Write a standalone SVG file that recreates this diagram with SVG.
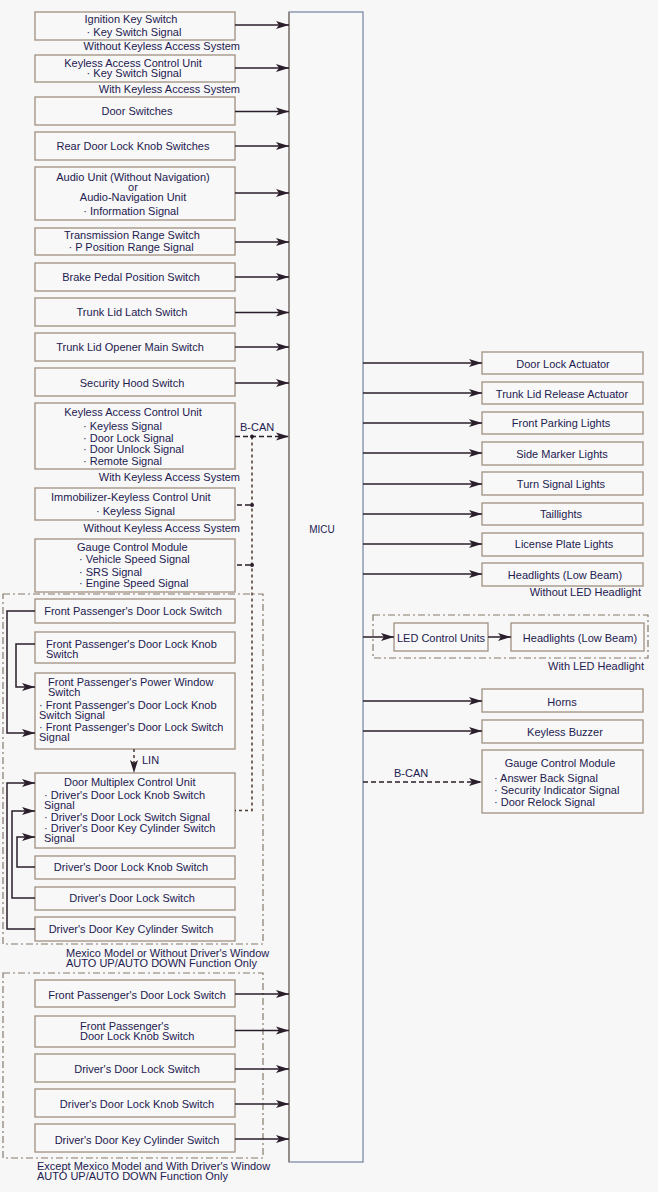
<svg xmlns="http://www.w3.org/2000/svg" width="658" height="1192" viewBox="0 0 658 1192">
<defs>
<style>
.bx{fill:#f8f8f8;stroke:#a09080;stroke-width:1.3}
.t{font-family:"Liberation Sans",Arial,sans-serif;font-size:11px;fill:#1d2050}
.m{text-anchor:middle}
.e{text-anchor:end}
.ln{fill:none;stroke:#2b1e2b;stroke-width:1.5}
.dl{fill:none;stroke:#2b1e2b;stroke-width:1.5;stroke-dasharray:5,3}
.dot{fill:none;stroke:#4a3a30;stroke-width:1.5;stroke-dasharray:3,3}
.grp{fill:none;stroke:#857a6c;stroke-width:1.2;stroke-dasharray:7,3,2,3}
</style>
<marker id="ah" viewBox="0 0 13 9" refX="13" refY="4.5" markerWidth="13" markerHeight="9" markerUnits="userSpaceOnUse" orient="auto">
<path d="M0,0.5 L13,4.5 L0,8.5 L3,4.5 z" fill="#2b1e2b"/>
</marker>
</defs>
<rect x="0" y="0" width="658" height="1192" fill="#f7f7f7"/>

<!-- group frames -->
<g id="frames">
<rect class="grp" x="3" y="594" width="260" height="350"/>
<rect class="grp" x="3" y="973" width="260" height="185"/>
<rect class="grp" x="373" y="615" width="275" height="43"/>
</g>

<!-- MICU -->
<g id="micu">
<rect x="289" y="12" width="74" height="1150" fill="#f8f8f8" stroke="#7d8ca8" stroke-width="1.3"/>
<line x1="289" y1="12" x2="289" y2="1162" stroke="#8b7b6b" stroke-width="1.3"/>
<text class="t m" x="322" y="533" style="font-size:10px">MICU</text>
</g>

<!-- left inputs -->
<g id="n1"><rect class="bx" x="35" y="12" width="200" height="28"/>
<text class="t m" x="131" y="23">Ignition Key Switch</text>
<text class="t m" x="134" y="36">· Key Switch Signal</text></g>
<text class="t e" x="240" y="50">Without Keyless Access System</text>

<g id="n2"><rect class="bx" x="35" y="55" width="200" height="27"/>
<text class="t m" x="133" y="67">Keyless Access Control Unit</text>
<text class="t m" x="134" y="77">· Key Switch Signal</text></g>
<text class="t e" x="240" y="93">With Keyless Access System</text>

<g id="n3"><rect class="bx" x="35" y="97" width="200" height="28"/>
<text class="t m" x="137" y="115">Door Switches</text></g>

<g id="n4"><rect class="bx" x="35" y="132" width="200" height="28"/>
<text class="t m" x="133" y="150">Rear Door Lock Knob Switches</text></g>

<g id="n5"><rect class="bx" x="35" y="167" width="200" height="53"/>
<text class="t m" x="133" y="181">Audio Unit (Without Navigation)</text>
<text class="t m" x="133" y="191">or</text>
<text class="t m" x="133" y="201">Audio-Navigation Unit</text>
<text class="t m" x="131" y="215">· Information Signal</text></g>

<g id="n6"><rect class="bx" x="35" y="228" width="200" height="27"/>
<text class="t m" x="132" y="239">Transmission Range Switch</text>
<text class="t m" x="131" y="251">· P Position Range Signal</text></g>

<g id="n7"><rect class="bx" x="35" y="263" width="200" height="28"/>
<text class="t m" x="131" y="281">Brake Pedal Position Switch</text></g>

<g id="n8"><rect class="bx" x="35" y="298" width="200" height="28"/>
<text class="t m" x="132" y="316">Trunk Lid Latch Switch</text></g>

<g id="n9"><rect class="bx" x="35" y="333" width="200" height="28"/>
<text class="t m" x="130" y="351">Trunk Lid Opener Main Switch</text></g>

<g id="n10"><rect class="bx" x="35" y="368" width="200" height="28"/>
<text class="t m" x="132" y="387">Security Hood Switch</text></g>

<g id="n11"><rect class="bx" x="35" y="403" width="200" height="66"/>
<text class="t m" x="133" y="416">Keyless Access Control Unit</text>
<text class="t" x="83" y="430">· Keyless Signal</text>
<text class="t" x="83" y="442">· Door Lock Signal</text>
<text class="t" x="83" y="453">· Door Unlock Signal</text>
<text class="t" x="83" y="465">· Remote Signal</text></g>
<text class="t e" x="240" y="481">With Keyless Access System</text>

<g id="n12"><rect class="bx" x="35" y="488" width="200" height="32"/>
<text class="t" x="51" y="501">Immobilizer-Keyless Control Unit</text>
<text class="t" x="96" y="515">· Keyless Signal</text></g>
<text class="t e" x="240" y="532">Without Keyless Access System</text>

<g id="n13"><rect class="bx" x="35" y="539" width="200" height="53"/>
<text class="t" x="77" y="551">Gauge Control Module</text>
<text class="t" x="79" y="563">· Vehicle Speed Signal</text>
<text class="t" x="79" y="576">· SRS Signal</text>
<text class="t" x="79" y="587">· Engine Speed Signal</text></g>

<!-- Mexico group -->
<g id="m1"><rect class="bx" x="35" y="599" width="200" height="24"/>
<text class="t m" x="133" y="615">Front Passenger's Door Lock Switch</text></g>
<g id="m2"><rect class="bx" x="35" y="632" width="200" height="31"/>
<text class="t" x="46" y="648">Front Passenger's Door Lock Knob</text>
<text class="t" x="46" y="658">Switch</text></g>
<g id="m3"><rect class="bx" x="35" y="673" width="200" height="76"/>
<text class="t" x="48" y="686">Front Passenger's Power Window</text>
<text class="t" x="48" y="696">Switch</text>
<text class="t" x="39" y="709">· Front Passenger's Door Lock Knob</text>
<text class="t" x="39" y="719">Switch Signal</text>
<text class="t" x="39" y="731">· Front Passenger's Door Lock Switch</text>
<text class="t" x="39" y="741">Signal</text></g>
<text class="t" x="142" y="764">LIN</text>
<g id="m4"><rect class="bx" x="35" y="773" width="200" height="75"/>
<text class="t" x="64" y="786">Door Multiplex Control Unit</text>
<text class="t" x="44" y="799">· Driver's Door Lock Knob Switch</text>
<text class="t" x="44" y="809">Signal</text>
<text class="t" x="44" y="821">· Driver's Door Lock Switch Signal</text>
<text class="t" x="44" y="832">· Driver's Door Key Cylinder Switch</text>
<text class="t" x="44" y="842">Signal</text></g>
<g id="m5"><rect class="bx" x="35" y="856" width="200" height="23"/>
<text class="t m" x="131" y="871">Driver's Door Lock Knob Switch</text></g>
<g id="m6"><rect class="bx" x="35" y="887" width="200" height="23"/>
<text class="t m" x="132" y="902">Driver's Door Lock Switch</text></g>
<g id="m7"><rect class="bx" x="35" y="917" width="200" height="24"/>
<text class="t m" x="131" y="933">Driver's Door Key Cylinder Switch</text></g>
<text class="t" x="66" y="957">Mexico Model or Without Driver's Window</text>
<text class="t" x="66" y="967">AUTO UP/AUTO DOWN Function Only</text>

<!-- Except Mexico group -->
<g id="x1"><rect class="bx" x="35" y="980" width="200" height="27"/>
<text class="t m" x="137" y="999">Front Passenger's Door Lock Switch</text></g>
<g id="x2"><rect class="bx" x="35" y="1016" width="200" height="31"/>
<text class="t" x="80" y="1030">Front Passenger's</text>
<text class="t" x="80" y="1040">Door Lock Knob Switch</text></g>
<g id="x3"><rect class="bx" x="35" y="1054" width="200" height="28"/>
<text class="t m" x="137" y="1073">Driver's Door Lock Switch</text></g>
<g id="x4"><rect class="bx" x="35" y="1089" width="200" height="28"/>
<text class="t m" x="137" y="1108">Driver's Door Lock Knob Switch</text></g>
<g id="x5"><rect class="bx" x="35" y="1124" width="200" height="28"/>
<text class="t m" x="137" y="1144">Driver's Door Key Cylinder Switch</text></g>
<text class="t" x="37" y="1170">Except Mexico Model and With Driver's Window</text>
<text class="t" x="37" y="1180">AUTO UP/AUTO DOWN Function Only</text>

<!-- right outputs -->
<g id="r1"><rect class="bx" x="482" y="352" width="161" height="22"/>
<text class="t m" x="563" y="368">Door Lock Actuator</text></g>
<g id="r2"><rect class="bx" x="482" y="382" width="161" height="22"/>
<text class="t m" x="562" y="398">Trunk Lid Release Actuator</text></g>
<g id="r3"><rect class="bx" x="482" y="412" width="161" height="22"/>
<text class="t m" x="561" y="427">Front Parking Lights</text></g>
<g id="r4"><rect class="bx" x="482" y="442" width="161" height="23"/>
<text class="t m" x="562" y="458">Side Marker Lights</text></g>
<g id="r5"><rect class="bx" x="482" y="472" width="161" height="23"/>
<text class="t m" x="561" y="488">Turn Signal Lights</text></g>
<g id="r6"><rect class="bx" x="482" y="503" width="161" height="22"/>
<text class="t m" x="561" y="518">Taillights</text></g>
<g id="r7"><rect class="bx" x="482" y="533" width="161" height="23"/>
<text class="t m" x="564" y="548">License Plate Lights</text></g>
<g id="r8"><rect class="bx" x="482" y="563" width="161" height="23"/>
<text class="t m" x="565" y="579">Headlights (Low Beam)</text></g>
<text class="t e" x="641" y="596">Without LED Headlight</text>
<g id="r9"><rect class="bx" x="394" y="623" width="94" height="28"/>
<text class="t m" x="441" y="642">LED Control Units</text></g>
<g id="r10"><rect class="bx" x="511" y="623" width="133" height="28"/>
<text class="t m" x="580" y="642">Headlights (Low Beam)</text></g>
<text class="t e" x="644" y="670">With LED Headlight</text>
<g id="r11"><rect class="bx" x="482" y="689" width="161" height="23"/>
<text class="t m" x="562" y="706">Horns</text></g>
<g id="r12"><rect class="bx" x="482" y="720" width="161" height="23"/>
<text class="t m" x="565" y="736">Keyless Buzzer</text></g>
<g id="r13"><rect class="bx" x="482" y="750" width="161" height="63"/>
<text class="t m" x="560" y="767">Gauge Control Module</text>
<text class="t" x="494" y="782">· Answer Back Signal</text>
<text class="t" x="494" y="794">· Security Indicator Signal</text>
<text class="t" x="494" y="806">· Door Relock Signal</text></g>

<!-- connectors -->
<g id="connectors">
<path class="ln" marker-end="url(#ah)" d="M235,25 H289"/>
<path class="ln" marker-end="url(#ah)" d="M235,68 H289"/>
<path class="ln" marker-end="url(#ah)" d="M235,111.5 H289"/>
<path class="ln" marker-end="url(#ah)" d="M235,146 H289"/>
<path class="ln" marker-end="url(#ah)" d="M235,193 H289"/>
<path class="ln" marker-end="url(#ah)" d="M235,242 H289"/>
<path class="ln" marker-end="url(#ah)" d="M235,277 H289"/>
<path class="ln" marker-end="url(#ah)" d="M235,312.5 H289"/>
<path class="ln" marker-end="url(#ah)" d="M235,347 H289"/>
<path class="ln" marker-end="url(#ah)" d="M235,383 H289"/>
<path class="dl" marker-end="url(#ah)" d="M235,436.5 H289"/>
<text class="t" x="240" y="431">B-CAN</text>
<path class="dot" d="M252,436.5 V810.5 H235"/>
<path class="dl" d="M237,505 H252"/>
<path class="dl" d="M237,565 H252"/>
<circle cx="252" cy="436.5" r="2" fill="#2b1e2b"/>
<circle cx="252" cy="505" r="2" fill="#2b1e2b"/>
<circle cx="252" cy="565" r="2" fill="#2b1e2b"/>
<path class="ln" marker-end="url(#ah)" d="M35,611 H7 V733 H35"/>
<path class="ln" marker-end="url(#ah)" d="M35,644 H16 V687 H35"/>
<path class="dot" marker-end="url(#ah)" d="M134,749 V773"/>
<path class="ln" marker-end="url(#ah)" d="M35,929 H7 V783 H35"/>
<path class="ln" marker-end="url(#ah)" d="M35,898 H12 V811 H35"/>
<path class="ln" marker-end="url(#ah)" d="M35,867 H17 V837 H35"/>
<path class="ln" marker-end="url(#ah)" d="M235,994 H289"/>
<path class="ln" marker-end="url(#ah)" d="M235,1030.5 H289"/>
<path class="ln" marker-end="url(#ah)" d="M235,1069 H289"/>
<path class="ln" marker-end="url(#ah)" d="M235,1104 H289"/>
<path class="ln" marker-end="url(#ah)" d="M235,1139 H289"/>
<path class="ln" marker-end="url(#ah)" d="M363,363 H482"/>
<path class="ln" marker-end="url(#ah)" d="M363,393 H482"/>
<path class="ln" marker-end="url(#ah)" d="M363,423 H482"/>
<path class="ln" marker-end="url(#ah)" d="M363,453 H482"/>
<path class="ln" marker-end="url(#ah)" d="M363,484 H482"/>
<path class="ln" marker-end="url(#ah)" d="M363,514 H482"/>
<path class="ln" marker-end="url(#ah)" d="M363,544 H482"/>
<path class="ln" marker-end="url(#ah)" d="M363,574 H482"/>
<path class="ln" marker-end="url(#ah)" d="M363,637 H394"/>
<path class="ln" marker-end="url(#ah)" d="M488,637 H511"/>
<path class="ln" marker-end="url(#ah)" d="M363,701 H482"/>
<path class="ln" marker-end="url(#ah)" d="M363,731 H482"/>
<path class="dl" marker-end="url(#ah)" d="M363,782 H482"/>
<text class="t" x="394" y="777">B-CAN</text>
</g>
</svg>
